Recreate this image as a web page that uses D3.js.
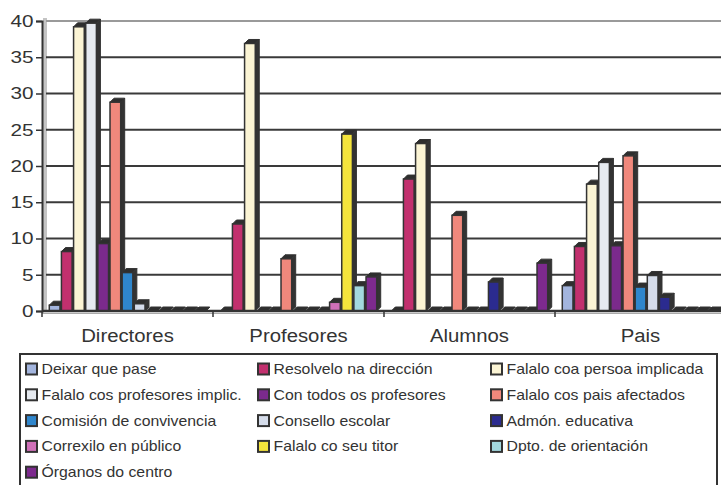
<!DOCTYPE html>
<html>
<head>
<meta charset="utf-8">
<script src="https://cdn.jsdelivr.net/npm/d3@7"></script>
<style>
  html, body { margin: 0; padding: 0; background: #ffffff; }
  svg { display: block; font-family: "Liberation Sans", Arial, sans-serif; }
</style>
</head>
<body>
<svg id="chart" width="721" height="485"></svg>
<script>
// ---- data ----
const categories = ["Directores", "Profesores", "Alumnos", "Pais"];
const seriesNames = [
  "Deixar que pase", "Resolvelo na dirección", "Falalo coa persoa implicada",
  "Falalo cos profesores implic.", "Con todos os profesores", "Falalo cos pais afectados",
  "Comisión de convivencia", "Consello escolar", "Admón. educativa",
  "Correxilo en público", "Falalo co seu titor", "Dpto. de orientación",
  "Órganos do centro"
];
const seriesColors = [
  "#a3b5de", "#c2306e", "#fbf4d4", "#e6eaf0", "#7b2a8c", "#f0887c",
  "#2f86cc", "#d5dcea", "#2b2b8f", "#cf70b8", "#f4e43c", "#a3d9df", "#7d2a8e"
];
const directores = [0.8, 8.2, 39.2, 39.7, 9.3, 28.8, 5.3, 1.0, 0, 0, 0, 0, 0];
const profesores = [0, 12.0, 36.9, 0, 0, 7.2, 0, 0, 0, 1.2, 24.4, 3.5, 4.7];
const alumnos    = [0, 18.2, 23.1, 0, 0, 13.2, 0, 0, 4.0, 0, 0, 0, 6.6];
const pais       = [3.5, 8.9, 17.5, 20.5, 9.0, 21.4, 3.3, 4.9, 1.9, 0, 0, 0, 0];
const yTicks = [0, 5, 10, 15, 20, 25, 30, 35, 40];

const valuesByCategory = [directores, profesores, alumnos, pais];

// ---- layout ----
const svg = d3.select("#chart");
const ink = "#333333";
const floorY = 311, topY = 21, leftX = 42, catW = 171;
const depth = 4;

const x0 = d3.scaleBand().domain(categories)
  .range([leftX, leftX + catW * categories.length]).padding(0);
const x1 = d3.scaleBand().domain(seriesNames)
  .range([0, x0.bandwidth()]).paddingInner(0.12).paddingOuter(0.6);
const y = d3.scaleLinear().domain([0, 40]).range([floorY, topY]);

// left wall
svg.append("rect").attr("x", leftX + 1).attr("y", topY - 3)
  .attr("width", 4).attr("height", floorY - topY + 3).attr("fill", "#c4c4c4");

// gridlines
svg.append("g").selectAll("line").data(yTicks.filter(d => d > 0)).join("line")
  .attr("x1", leftX + 4).attr("x2", 721)
  .attr("y1", d => y(d)).attr("y2", d => y(d))
  .attr("stroke", d => d === 40 ? "#9a9a9a" : "#3a3a3a")
  .attr("stroke-width", 2);

// bars
const data = [];
categories.forEach((c, ci) => {
  seriesNames.forEach((s, si) => {
    data.push({ cat: c, series: s, si, value: valuesByCategory[ci][si] });
  });
});

const bars = svg.append("g");
data.forEach(d => {
  const x = x0(d.cat) + x1(d.series);
  const w = x1.bandwidth();
  const yt = y(d.value);
  const g = bars.append("g");
  // side face
  g.append("polygon")
    .attr("points", [[x + w, yt], [x + w + depth, yt - depth], [x + w + depth, floorY - depth], [x + w, floorY]].map(p => p.join(",")).join(" "))
    .attr("fill", ink).attr("stroke", ink).attr("stroke-width", 1);
  // top face
  g.append("polygon")
    .attr("points", [[x, yt], [x + depth, yt - depth], [x + w + depth, yt - depth], [x + w, yt]].map(p => p.join(",")).join(" "))
    .attr("fill", "#2e2e2e").attr("stroke", ink).attr("stroke-width", 1);
  // front face
  if (d.value > 0) {
    g.append("rect")
      .attr("x", x).attr("y", yt)
      .attr("width", w).attr("height", floorY - yt)
      .attr("fill", seriesColors[d.si])
      .attr("stroke", ink).attr("stroke-width", 1.5);
  }
});

// floor
svg.append("line").attr("x1", leftX).attr("x2", 721).attr("y1", floorY).attr("y2", floorY)
  .attr("stroke", ink).attr("stroke-width", 2.5);
svg.append("line").attr("x1", leftX).attr("x2", 721).attr("y1", floorY + 2.5).attr("y2", floorY + 2.5)
  .attr("stroke", "#aaaaaa").attr("stroke-width", 1);

// category boundary ticks
svg.append("g").selectAll("line").data(categories).join("line")
  .attr("x1", d => x0(d)).attr("x2", d => x0(d))
  .attr("y1", floorY).attr("y2", floorY + 6)
  .attr("stroke", ink).attr("stroke-width", 1.5);

// y axis
const yAxis = svg.append("g").attr("transform", `translate(${leftX},0)`)
  .call(d3.axisLeft(y).tickValues(yTicks).tickSize(6).tickPadding(1));
yAxis.select(".domain").attr("stroke", ink).attr("stroke-width", 2);
yAxis.selectAll(".tick line").attr("stroke", ink).attr("stroke-width", 1.5);
yAxis.selectAll(".tick text")
  .attr("fill", ink).style("font-size", "17px")
  .attr("transform", "scale(1.22,1)");

// x axis labels
const xAxis = svg.append("g").attr("transform", `translate(0,${floorY})`)
  .call(d3.axisBottom(x0).tickSize(0).tickPadding(0));
xAxis.select(".domain").remove();
xAxis.selectAll(".tick text").each(function () {
  const t = d3.select(this);
  t.attr("y", null).attr("dy", null)
    .attr("transform", "translate(0,31) scale(1.13,1)")
    .attr("fill", ink).style("font-size", "18px");
});

// legend
const legend = svg.append("g");
legend.append("rect").attr("x", 20).attr("y", 354).attr("width", 697).attr("height", 150)
  .attr("fill", "#ffffff").attr("stroke", ink).attr("stroke-width", 2);
const colX = [25, 257, 490];
seriesNames.forEach((s, i) => {
  const cx = colX[i % 3];
  const cy = 369 + 25.8 * Math.floor(i / 3);
  legend.append("rect").attr("x", cx + 1).attr("y", cy - 5.5)
    .attr("width", 11).attr("height", 11)
    .attr("fill", seriesColors[i]).attr("stroke", ink).attr("stroke-width", 2);
  legend.append("text")
    .attr("transform", `translate(${cx + 16.5},${cy}) scale(1.13,1)`)
    .attr("dy", "0.36em")
    .attr("fill", ink).style("font-size", "14px")
    .text(s);
});
</script>
</body>
</html>
